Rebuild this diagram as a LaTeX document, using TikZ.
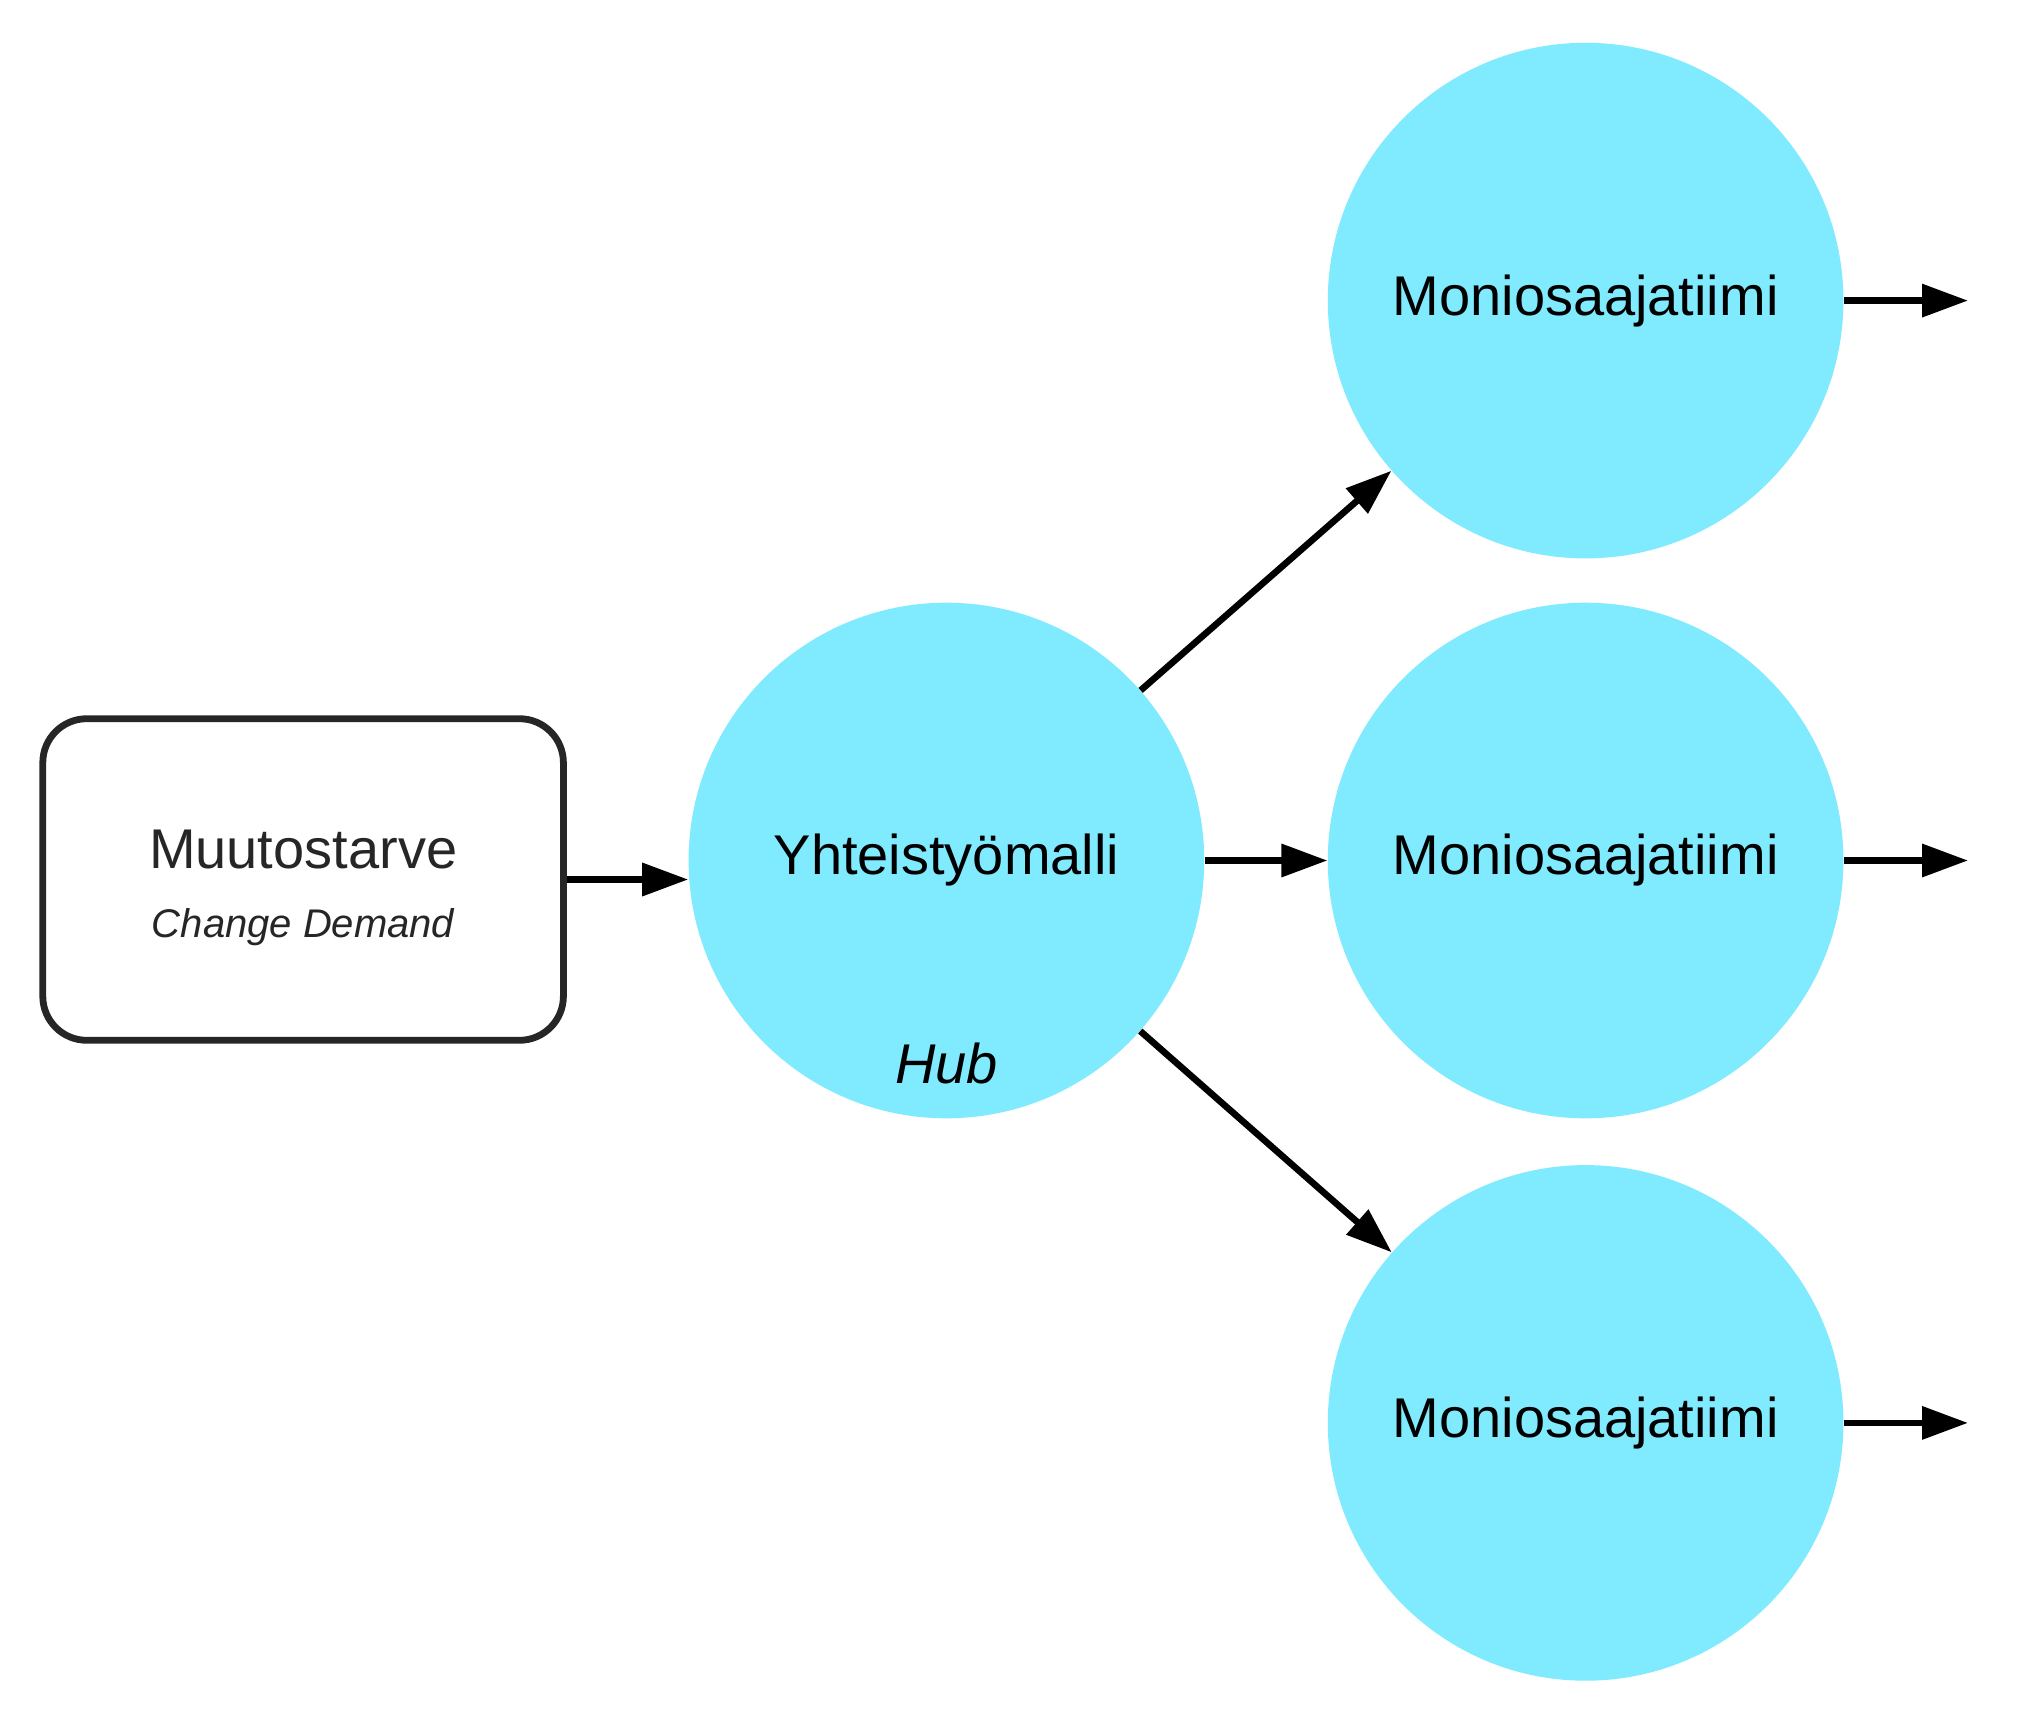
\documentclass[tikz,border=0pt]{standalone}
\usepackage{fontspec}
\setmainfont{Liberation Sans}
\usetikzlibrary{arrows.meta}
\definecolor{hubcyan}{HTML}{80EAFF}
\definecolor{boxink}{HTML}{262626}
\tikzset{
  proc/.style={draw=boxink, line width=3.4pt, rounded corners=22pt, fill=white,
    minimum width=260.3pt, minimum height=160.8pt, inner sep=0pt},
  teamcircle/.style={circle, fill=hubcyan, minimum size=257.8pt, inner sep=0pt,
    font=\fontsize{28pt}{32pt}\selectfont, text=black},
  flow/.style={line width=3.3pt, -{Triangle[length=23pt, width=16pt]}},
}
\begin{document}
\begin{tikzpicture}[x=0.5pt, y=-0.5pt]
\useasboundingbox (0,0) rectangle (2040,1724);
\node[proc] (box) at (303.1,879.5) {};
\node[text=boxink, font=\fontsize{28pt}{32pt}\selectfont] (boxtitle) at (303.1,850) {Muutostarve};
\node[text=boxink, font=\fontsize{20pt}{24pt}\selectfont\itshape] (boxsub) at (303.1,927) {Change Demand};
\node[teamcircle] (hub) at (946.4,860.5) {Yhteistyömalli};
\node[font=\fontsize{28pt}{32pt}\selectfont\itshape, text=black] (hublabel) at (946.4,1063) {Hub};
\node[teamcircle] (t1) at (1585.6,300.6) {Moniosaajatiimi};
\node[teamcircle] (t2) at (1585.6,860.5) {Moniosaajatiimi};
\node[teamcircle] (t3) at (1585.6,1422.9) {Moniosaajatiimi};
\coordinate (o1) at (1968,300.6);
\coordinate (o2) at (1968,860.5);
\coordinate (o3) at (1968,1422.9);
\draw[flow] (box.east) -- (box.east -| hub.west);
\draw[flow] (hub) -- (t1);
\draw[flow] (hub) -- (t2);
\draw[flow] (hub) -- (t3);
\draw[flow] (t1.east) -- (o1);
\draw[flow] (t2.east) -- (o2);
\draw[flow] (t3.east) -- (o3);
\end{tikzpicture}
\end{document}
